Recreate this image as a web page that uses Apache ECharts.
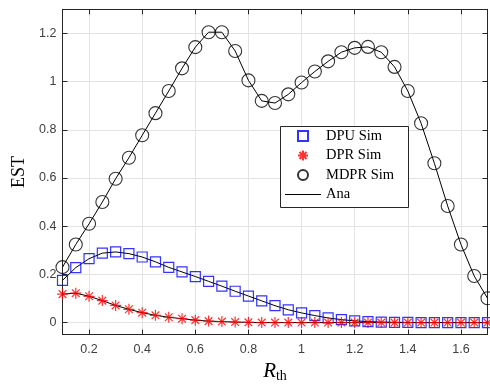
<!DOCTYPE html>
<html><head><meta charset="utf-8">
<script src="https://cdn.jsdelivr.net/npm/echarts@6/dist/echarts.min.js"></script>
<style>html,body{margin:0;padding:0;background:#fff}#c{width:490px;height:388px}</style>
</head><body><div id="c"></div><script>
const xValues = [0.1,0.15,0.2,0.25,0.3,0.35,0.4,0.45,0.5,0.55,0.6,0.65,0.7,0.75,0.8,0.85,0.9,0.95,1.0,1.05,1.1,1.15,1.2,1.25,1.3,1.35,1.4,1.45,1.5,1.55,1.6,1.65,1.7];
const dpuSim = [0.175,0.228,0.265,0.288,0.293,0.286,0.272,0.252,0.229,0.21,0.191,0.171,0.151,0.13,0.11,0.09,0.07,0.053,0.04,0.029,0.019,0.012,0.007,0.004,0.002,0.001,0.0005,0,0,0,0,0,0];
const dprSim = [0.118,0.122,0.109,0.091,0.071,0.055,0.041,0.03,0.022,0.016,0.01,0.006,0.004,0.002,0.001,0,0,0,0,0,0,0,0,0,0,0,0,0,0,0,0,0,0];
const mdprSim = [0.23,0.324,0.41,0.5,0.597,0.684,0.777,0.869,0.961,1.055,1.143,1.205,1.205,1.127,1.005,0.92,0.911,0.947,0.996,1.042,1.084,1.122,1.14,1.144,1.122,1.061,0.961,0.827,0.661,0.484,0.324,0.193,0.101];
const dpuAna = dpuSim, dprAna = dprSim, mdprAna = mdprSim;
const xTicks = [0.2,0.4,0.6,0.8,1,1.2,1.4,1.6];
const yTicks = [0,0.2,0.4,0.6,0.8,1,1.2];

const pairs = arr => xValues.map((x, i) => [x, arr[i]]);
const AX = '#262626';
const starPath = 'path://M5 0L5 10M0 5L10 5M1.5 1.5L8.5 8.5M8.5 1.5L1.5 8.5';
const squarePath = 'path://M0 0L10 0L10 10L0 10Z';
const lineIconPath = 'path://M0 0L36 0L36 1.1L0 1.1Z';
const chart = echarts.init(document.getElementById('c'));
const tickCommon = {inside: true, length: 5, lineStyle: {color: AX, width: 1}};
chart.setOption({
  animation: false,
  backgroundColor: '#fff',
  grid: {left: 62.5, right: 2.5, top: 9.3, bottom: 45, containLabel: false},
  xAxis: [{
    type: 'value', min: 0.1, max: 1.7, position: 'bottom',
    axisLine: {show: true, onZero: false, lineStyle: {color: AX, width: 1}},
    axisTick: Object.assign({customValues: xTicks}, tickCommon),
    axisLabel: {customValues: xTicks, margin: 8, color: '#404040', fontFamily: 'Liberation Sans', fontSize: 12.5},
    splitLine: {show: true, lineStyle: {color: '#e3e3e3', width: 1}},
    name: '{i|R}{s|th}', nameLocation: 'middle', nameGap: 21,
    nameTextStyle: {rich: {
      i: {fontFamily: 'Liberation Serif', fontStyle: 'italic', fontSize: 21, color: '#000', lineHeight: 24},
      s: {fontFamily: 'Liberation Serif', fontSize: 14, color: '#000', lineHeight: 24, verticalAlign: 'bottom', padding: [8, 0, 0, 0]}
    }}
  }, {
    type: 'value', min: 0.1, max: 1.7, position: 'top',
    axisLine: {show: true, onZero: false, lineStyle: {color: AX, width: 1}},
    axisTick: Object.assign({customValues: xTicks}, tickCommon),
    axisLabel: {show: false}, splitLine: {show: false}
  }],
  yAxis: [{
    type: 'value', min: -0.05, max: 1.3, position: 'left',
    axisLine: {show: true, onZero: false, lineStyle: {color: AX, width: 1}},
    axisTick: Object.assign({customValues: yTicks}, tickCommon),
    axisLabel: {customValues: yTicks, margin: 6, color: '#404040', fontFamily: 'Liberation Sans', fontSize: 12.5},
    splitLine: {show: true, lineStyle: {color: '#e3e3e3', width: 1}},
    name: 'EST', nameLocation: 'middle', nameGap: 29,
    nameTextStyle: {fontFamily: 'Liberation Serif', fontSize: 18, color: '#000'}
  }, {
    type: 'value', min: -0.05, max: 1.3, position: 'right',
    axisLine: {show: true, onZero: false, lineStyle: {color: AX, width: 1}},
    axisTick: Object.assign({customValues: yTicks}, tickCommon),
    axisLabel: {show: false}, splitLine: {show: false}
  }],
  legend: {
    orient: 'vertical', left: 285, top: 128, z: 6,
    itemWidth: 36, itemHeight: 10, itemGap: 3.5, padding: 0,
    data: ['DPU Sim', 'DPR Sim', 'MDPR Sim', {name: 'Ana', icon: lineIconPath}],
    textStyle: {fontFamily: 'Liberation Serif', fontSize: 14.5, color: '#000', lineHeight: 16}
  },
  graphic: [{
    type: 'rect', z: 5, silent: true,
    shape: {x: 280.5, y: 126.5, width: 128, height: 81},
    style: {fill: '#fff', stroke: AX, lineWidth: 1}
  }],
  series: [
    {name: 'Ana', type: 'line', data: pairs(dpuAna), symbol: 'none', z: 2, color: '#000', lineStyle: {color: '#000', width: 1}},
    {name: 'Ana', type: 'line', data: pairs(dprAna), symbol: 'none', z: 2, color: '#000', lineStyle: {color: '#000', width: 1}},
    {name: 'Ana', type: 'line', data: pairs(mdprAna), symbol: 'none', z: 2, color: '#000', lineStyle: {color: '#000', width: 1}},
    {name: 'DPU Sim', type: 'scatter', data: pairs(dpuSim), symbol: squarePath, symbolSize: 10, z: 3,
     itemStyle: {color: 'rgba(255,255,255,0)', borderColor: '#0000ff', borderWidth: 1.2}},
    {name: 'DPR Sim', type: 'scatter', data: pairs(dprSim), symbol: starPath, symbolSize: 11, z: 3,
     itemStyle: {color: '#ff0000', borderColor: '#ff0000', borderWidth: 1.2}},
    {name: 'MDPR Sim', type: 'scatter', data: pairs(mdprSim), symbol: 'circle', symbolSize: 13, z: 3,
     itemStyle: {color: 'rgba(255,255,255,0)', borderColor: '#000', borderWidth: 1.1}}
  ]
});
</script></body></html>
